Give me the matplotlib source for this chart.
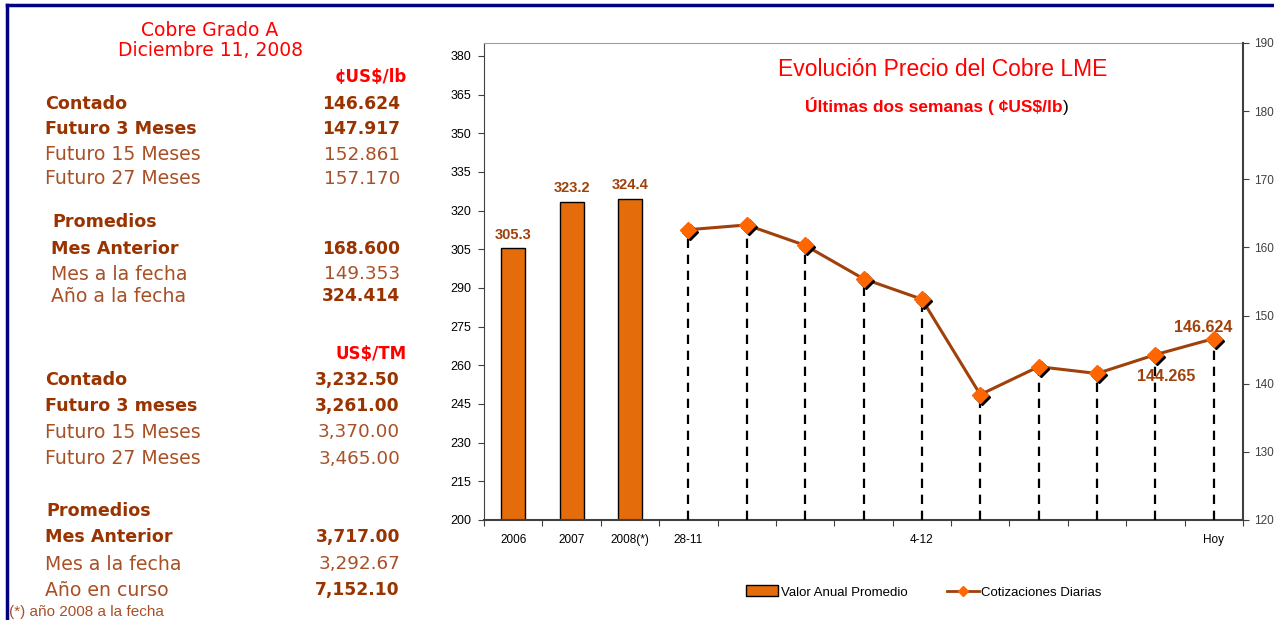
import numpy as np
import matplotlib
matplotlib.use("Agg")
import matplotlib.pyplot as plt
import matplotlib.patches as mpatches
from matplotlib.lines import Line2D
from matplotlib.transforms import offset_copy

# datos del grafico
years = ["2006", "2007", "2008(*)"]
annual_avg = [305.3, 323.2, 324.4]
day_labels = ["28-11", "", "", "", "4-12", "", "", "", "", "Hoy"]
daily_price = [162.6, 163.3, 160.3, 155.4, 152.4, 138.4, 142.5, 141.5, 144.265, 146.624]

# panel izquierdo
lb_labels = ["Contado", "Futuro 3 Meses", "Futuro 15 Meses", "Futuro 27 Meses"]
lb_values = ["146.624", "147.917", "152.861", "157.170"]
lb_prom_labels = ["Mes Anterior", "Mes a la fecha", "Año a la fecha"]
lb_prom_values = ["168.600", "149.353", "324.414"]
tm_labels = ["Contado", "Futuro 3 meses", "Futuro 15 Meses", "Futuro 27 Meses"]
tm_values = ["3,232.50", "3,261.00", "3,370.00", "3,465.00"]
tm_prom_labels = ["Mes Anterior", "Mes a la fecha", "Año en curso"]
tm_prom_values = ["3,717.00", "3,292.67", "7,152.10"]

W, H = 1274, 620
BAR_C = "#E46C0A"
LINE_C = "#A0400A"
MARK_C = "#FF6600"
BROWN_B = "#993300"
BROWN_N = "#A85026"
RED = "#FF0000"
CHART_FONT = "Liberation Sans"
PANEL_FONT = "DejaVu Sans"

fig = plt.figure(figsize=(W / 100, H / 100), dpi=100, facecolor="white")


def px(x, y):
    return x / W, 1 - y / H


# ---------------- grafico ----------------
ax = fig.add_axes([484 / W, 1 - 520 / H, (1243 - 484) / W, (520 - 43) / H])
ax2 = ax.twinx()

xb = np.arange(len(years))
xl = np.arange(len(years), len(years) + len(daily_price))
ax.bar(xb, annual_avg, width=0.41, color=BAR_C, edgecolor="black", linewidth=1.0, zorder=2)
for x, v in zip(xb, annual_avg):
    ax.annotate(f"{v:.1f}", (x, v), xytext=(0, 5), textcoords="offset points",
                ha="center", va="bottom", color=LINE_C, fontsize=10.5,
                fontweight="bold", family=CHART_FONT)

ax.set_xlim(-0.5, len(xb) + len(xl) - 0.5)
ax.set_ylim(200, 385)
ax.set_yticks(np.arange(200, 381, 15))
ax2.set_ylim(120, 190)
ax2.set_yticks(np.arange(120, 191, 10))

# lineas verticales punteadas
ax2.vlines(xl, 120, daily_price, colors="black", linestyles=(0, (4.2, 3)), lw=1.6, zorder=1)
ax2.plot(xl, daily_price, color=LINE_C, lw=2.2, zorder=3)
shadow = offset_copy(ax2.transData, fig=fig, x=2, y=-2, units="dots")
ax2.plot(xl, daily_price, "D", color="black", ms=7.8, transform=shadow, zorder=3.5)
ax2.plot(xl, daily_price, "D", color=MARK_C, ms=7.8, mec=MARK_C, zorder=4)

ax2.annotate(f"{daily_price[-2]:.3f}", (xl[-2], daily_price[-2]), xytext=(8, -16),
             textcoords="offset points", ha="center", va="center", color=LINE_C,
             fontsize=11.5, fontweight="bold", family=CHART_FONT)
ax2.annotate(f"{daily_price[-1]:.3f}", (xl[-1], daily_price[-1]), xytext=(-8, 8),
             textcoords="offset points", ha="center", va="center", color=LINE_C,
             fontsize=11.5, fontweight="bold", family=CHART_FONT)

ax.set_xticks(np.arange(-0.5, len(xb) + len(xl), 1))
ax.set_xticklabels([])
ax.set_xticks(np.concatenate([xb, xl]), labels=years + day_labels, minor=True)
ax.tick_params(axis="x", which="major", length=4, color="#404040")
ax.tick_params(axis="x", which="minor", length=0, pad=10, labelsize=8.5)
ax.tick_params(axis="y", length=4, color="#404040", labelsize=9, pad=5)
ax2.tick_params(axis="y", length=4, color="#404040", labelsize=8.5, labelcolor="#404040", pad=4)
for lab in ax.get_xticklabels(minor=True) + ax.get_yticklabels() + ax2.get_yticklabels():
    lab.set_family(CHART_FONT)

ax.spines["top"].set_color("#A0A0A0")
ax.spines["right"].set_visible(False)
ax.spines["left"].set_color("#404040")
ax.spines["bottom"].set_color("#404040")
ax.spines["bottom"].set_linewidth(1.5)
ax2.spines["top"].set_visible(False)
ax2.spines["left"].set_visible(False)
ax2.spines["bottom"].set_visible(False)
ax2.spines["right"].set_color("#404040")
ax2.spines["right"].set_linewidth(1.5)

fig.text(*px(943, 70), "Evolución Precio del Cobre LME", ha="center", va="center",
         color=RED, fontsize=16.5, family=CHART_FONT)
t = fig.text(*px(934, 106), "Últimas dos semanas ( ¢US$/lb", ha="center", va="center",
             color=RED, fontsize=12.5, fontweight="bold", family=CHART_FONT)
ax.annotate(")", xy=(1, 0), xycoords=t, ha="left", va="bottom", color="black",
            fontsize=12.5, family=CHART_FONT, annotation_clip=False)

handles = [mpatches.Patch(facecolor=BAR_C, edgecolor="black", linewidth=1.0),
           Line2D([], [], color=LINE_C, lw=2, marker="D", ms=5, mfc=MARK_C, mec=MARK_C)]
fig.legend(handles, ["Valor Anual Promedio", "Cotizaciones Diarias"], loc="center",
           bbox_to_anchor=px(924, 592), ncol=2, frameon=False, handlelength=2.4,
           handleheight=0.9, columnspacing=3.0, handletextpad=0.2,
           prop={"family": CHART_FONT, "size": 9.5})

# ---------------- panel izquierdo ----------------
fig.text(*px(210, 31), "Cobre Grado A", ha="center", va="center", color=RED,
         fontsize=13.5, family=PANEL_FONT)
fig.text(*px(210, 51), "Diciembre 11, 2008", ha="center", va="center", color=RED,
         fontsize=13.5, family=PANEL_FONT)


def row(y, label, value, xlab, bold_lab, bold_val):
    fig.text(*px(xlab, y), label, ha="left", va="center", family=PANEL_FONT,
             fontsize=12.6 if bold_lab else 13.6,
             fontweight="bold" if bold_lab else "normal",
             color=BROWN_B if bold_lab else BROWN_N)
    fig.text(*px(400, y), value, ha="right", va="center", family=PANEL_FONT,
             fontsize=12.3 if bold_val else 13.2,
             fontweight="bold" if bold_val else "normal",
             color=BROWN_B if bold_val else BROWN_N)


fig.text(*px(407, 77), "¢US$/lb", ha="right", va="center", color=RED, fontsize=12,
         fontweight="bold", family=PANEL_FONT)
bold_main = [True, True, False, False]
for y, lab, val, b in zip([104, 129, 155, 179], lb_labels, lb_values, bold_main):
    row(y, lab, val, 45, b, b)
fig.text(*px(52, 222), "Promedios", ha="left", va="center", color=BROWN_B, fontsize=12.6,
         fontweight="bold", family=PANEL_FONT)
for y, lab, val, bl, bv in zip([249, 274, 296], lb_prom_labels, lb_prom_values,
                               [True, False, False], [True, False, True]):
    row(y, lab, val, 51, bl, bv)

fig.text(*px(407, 354), "US$/TM", ha="right", va="center", color=RED, fontsize=12,
         fontweight="bold", family=PANEL_FONT)
for y, lab, val, b in zip([380, 406, 432, 459], tm_labels, tm_values, bold_main):
    row(y, lab, val, 45, b, b)
fig.text(*px(46, 511), "Promedios", ha="left", va="center", color=BROWN_B, fontsize=12.6,
         fontweight="bold", family=PANEL_FONT)
for y, lab, val, bl, bv in zip([537, 564, 590], tm_prom_labels, tm_prom_values,
                               [True, False, False], [True, False, True]):
    row(y, lab, val, 45, bl, bv)

fig.text(*px(9, 612), "(*) año 2008 a la fecha", ha="left", va="center", color=BROWN_N,
         fontsize=11, family=CHART_FONT)

# marco azul
fig.add_artist(Line2D([7 / W, 1], [1 - 5 / H, 1 - 5 / H], color="#000080", lw=2.5))
fig.add_artist(Line2D([7 / W, 7 / W], [0, 1 - 5 / H], color="#000080", lw=2.5))

fig.savefig("out.png", dpi=100, facecolor="white")
